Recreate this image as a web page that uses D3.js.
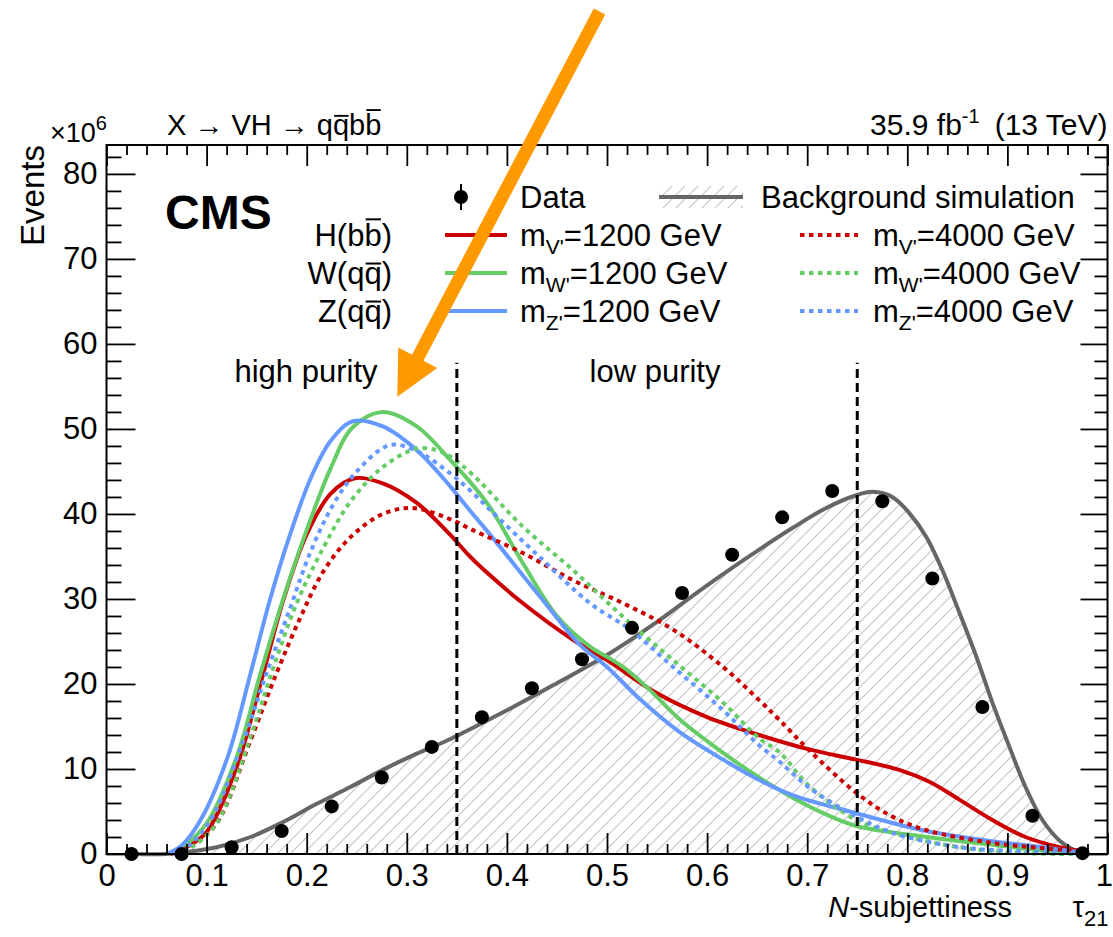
<!DOCTYPE html>
<html>
<head>
<meta charset="utf-8">
<script src="https://cdn.jsdelivr.net/npm/d3@7"></script>
<style>
  body { margin: 0; background: #fff; }
  text { font-family: "Liberation Sans", Arial, Helvetica, sans-serif; fill: #000; }
</style>
</head>
<body>
<svg id="chart" width="1113" height="937"></svg>
<script>
// ---- data (events in units of 10^6) ----
const binCenters = [0.025, 0.075, 0.125, 0.175, 0.225, 0.275, 0.325, 0.375, 0.425, 0.475,
                    0.525, 0.575, 0.625, 0.675, 0.725, 0.775, 0.825, 0.875, 0.925, 0.975];
const dataEvents = [0, 0, 0.8, 2.7, 5.6, 9.0, 12.6, 16.1, 19.5, 22.9,
                    26.6, 30.7, 35.2, 39.6, 42.7, 41.5, 32.4, 17.3, 4.5, 0.1];

const bkgCurve = [[0.025,0],[0.060,0],[0.077,0.2],[0.110,0.8],[0.144,2.0],[0.177,3.8],[0.210,5.9],
  [0.244,7.9],[0.276,9.9],[0.310,11.8],[0.343,13.5],[0.400,16.9],[0.450,20.1],[0.500,23.4],
  [0.550,27.3],[0.600,31.6],[0.652,35.8],[0.686,38.4],[0.719,40.7],[0.749,42.2],[0.765,42.6],
  [0.785,42.0],[0.802,40.1],[0.819,37.3],[0.835,33.4],[0.852,28.4],[0.869,23.2],[0.885,17.8],
  [0.902,12.6],[0.918,7.9],[0.935,4.0],[0.952,1.6],[0.968,0.4],[0.978,0]];

const hbb1200 = [[0.064,0],[0.080,0.8],[0.100,2.6],[0.130,10.2],[0.154,20.1],[0.177,30.0],[0.200,37.6],
  [0.224,42.4],[0.248,44.2],[0.276,43.6],[0.310,41.3],[0.343,37.6],[0.363,35.0],[0.380,33.1],
  [0.416,29.5],[0.466,25.2],[0.500,22.8],[0.550,18.9],[0.600,16.1],[0.652,14.0],[0.702,12.3],
  [0.749,11.1],[0.792,9.9],[0.822,8.5],[0.852,6.4],[0.885,4.0],[0.918,2.0],[0.952,0.8],[0.975,0.3]];
const wqq1200 = [[0.062,0],[0.078,1.0],[0.100,3.6],[0.130,11.4],[0.154,21.3],[0.177,30.2],[0.200,38.1],
  [0.224,45.4],[0.246,50.2],[0.276,52.0],[0.310,50.3],[0.343,46.4],[0.363,43.8],[0.383,40.8],
  [0.416,34.2],[0.450,28.0],[0.483,24.4],[0.500,23.2],[0.516,22.0],[0.540,19.6],[0.573,15.8],
  [0.616,11.9],[0.652,9.0],[0.686,6.6],[0.720,4.6],[0.749,3.3],[0.819,2.0],[0.885,1.1],
  [0.935,0.4],[0.975,0.05]];
const zqq1200 = [[0.060,0],[0.075,1.0],[0.094,4.0],[0.121,11.4],[0.144,21.3],[0.164,30.2],[0.184,37.8],
  [0.204,44.2],[0.224,48.6],[0.246,50.9],[0.276,50.3],[0.310,47.5],[0.343,43.3],[0.363,40.4],
  [0.383,37.6],[0.433,30.3],[0.473,24.6],[0.500,22.0],[0.533,18.2],[0.573,14.3],[0.616,11.1],
  [0.652,8.7],[0.686,6.9],[0.749,4.8],[0.819,2.7],[0.885,1.5],[0.935,0.8],[0.972,0.2]];

const hbb4000 = [[0.068,0],[0.085,1.0],[0.110,3.6],[0.144,13.4],[0.170,21.3],[0.194,27.9],[0.217,33.3],
  [0.244,37.3],[0.276,40.0],[0.306,40.7],[0.343,39.4],[0.366,38.1],[0.416,35.4],[0.466,32.2],
  [0.516,29.5],[0.566,26.4],[0.616,22.0],[0.652,18.1],[0.672,15.8],[0.702,12.2],[0.749,7.2],
  [0.785,4.4],[0.819,2.8],[0.885,1.3],[0.952,0.5],[0.975,0.2]];
const wqq4000 = [[0.068,0],[0.085,0.8],[0.110,3.6],[0.144,13.8],[0.167,22.0],[0.190,29.5],[0.217,36.1],
  [0.244,41.5],[0.276,45.5],[0.310,47.7],[0.330,47.5],[0.343,46.8],[0.366,44.6],[0.416,38.5],
  [0.466,33.4],[0.516,27.9],[0.566,22.8],[0.616,17.8],[0.652,13.6],[0.672,12.0],[0.702,8.0],
  [0.749,4.0],[0.785,2.5],[0.852,0.8],[0.918,0.1],[0.975,0]];
const zqq4000 = [[0.065,0],[0.082,1.0],[0.104,4.0],[0.137,13.4],[0.160,21.3],[0.184,29.1],[0.204,35.6],
  [0.227,41.2],[0.250,45.0],[0.283,48.1],[0.310,47.4],[0.343,44.8],[0.363,42.8],[0.383,40.5],
  [0.433,34.9],[0.483,29.5],[0.523,26.4],[0.566,22.0],[0.616,16.9],[0.652,12.8],[0.672,10.9],
  [0.702,7.8],[0.749,4.4],[0.785,2.5],[0.852,0.8],[0.918,0.3],[0.975,0.05]];

const purityCuts = [0.35, 0.75];
const cutTop = 57.8;
const xMajorTicks = [0, 0.1, 0.2, 0.3, 0.4, 0.5, 0.6, 0.7, 0.8, 0.9, 1];
const yMajorTicks = [0, 10, 20, 30, 40, 50, 60, 70, 80];

const colRed = "#cc0000", colGreen = "#66cc66", colBlue = "#6699ff", colBkg = "#666666";

const signals = [
  { pts: hbb1200, color: colRed,   dashed: false },
  { pts: wqq1200, color: colGreen, dashed: false },
  { pts: zqq1200, color: colBlue,  dashed: false },
  { pts: hbb4000, color: colRed,   dashed: true },
  { pts: wqq4000, color: colGreen, dashed: true },
  { pts: zqq4000, color: colBlue,  dashed: true }
];

const FS = 31; // main text size

// ---- layout ----
const svg = d3.select("#chart");
const x = d3.scaleLinear().domain([0, 1]).range([106.5, 1107.5]);
const y = d3.scaleLinear().domain([0, 83.4]).range([854, 145]);

// hatch pattern for the background simulation
const defs = svg.append("defs");
const hatch = defs.append("pattern").attr("id", "hatch")
  .attr("patternUnits", "userSpaceOnUse").attr("width", 13).attr("height", 13);
hatch.append("path").attr("d", "M-1,14 L14,-1 M-4,4 L4,-4 M9,17 L17,9")
  .attr("stroke", "#c4c4c4").attr("stroke-width", 1.1).attr("fill", "none");

const smooth = d3.curveCatmullRom.alpha(0.5);
const line = d3.line().x(d => x(d[0])).y(d => y(Math.max(0, d[1]))).curve(smooth);
const area = d3.area().x(d => x(d[0])).y0(y(0)).y1(d => y(d[1])).curve(smooth);

// background simulation: hatched area + solid line
svg.append("path").datum(bkgCurve).attr("d", area).attr("fill", "url(#hatch)");
svg.append("path").datum(bkgCurve).attr("d", line)
  .attr("fill", "none").attr("stroke", colBkg).attr("stroke-width", 4);

// signal shapes
svg.append("g").selectAll("path").data(signals).join("path")
  .attr("d", d => line(d.pts))
  .attr("fill", "none")
  .attr("stroke", d => d.color)
  .attr("stroke-width", 4)
  .attr("stroke-dasharray", d => d.dashed ? "4.5,4.5" : null);

// purity category boundaries
svg.append("g").selectAll("line").data(purityCuts).join("line")
  .attr("x1", d => x(d)).attr("x2", d => x(d))
  .attr("y1", y(0)).attr("y2", y(cutTop))
  .attr("stroke", "#000").attr("stroke-width", 3).attr("stroke-dasharray", "9,5");

// data points
svg.append("g").selectAll("circle").data(binCenters).join("circle")
  .attr("cx", d => x(d)).attr("cy", (d, i) => y(dataEvents[i])).attr("r", 7).attr("fill", "#000");

// ---- axes (ticks inside on all four sides) ----
const xMinorTicks = d3.range(0, 1.0001, 0.02).filter(v => Math.abs(v * 10 - Math.round(v * 10)) > 1e-6);
const yMinorTicks = d3.range(0, 83.4, 2).filter(v => v % 10 !== 0);
const fmtX = d => d === 0 ? "0" : d === 1 ? "1" : d.toFixed(1);

function styleAxis(g) {
  g.select(".domain").remove();
  g.selectAll("line").attr("stroke", "#000").attr("stroke-width", 1.8);
  g.selectAll("text").style("font-size", "31px").attr("font-family", null);
}

const xAxisG = svg.append("g").attr("transform", `translate(0,${y(0)})`)
  .call(d3.axisBottom(x).tickValues(xMajorTicks).tickSize(-21).tickSizeOuter(0).tickPadding(10).tickFormat(fmtX))
  .call(styleAxis);
// keep the last label inside the canvas
xAxisG.selectAll(".tick").filter(d => d === 1).select("text").attr("text-anchor", "end").attr("x", 5);
svg.append("g").attr("transform", `translate(0,${y(0)})`)
  .call(d3.axisBottom(x).tickValues(xMinorTicks).tickSize(-10).tickSizeOuter(0).tickFormat(""))
  .call(styleAxis);
svg.append("g").attr("transform", `translate(0,${y(83.4)})`)
  .call(d3.axisTop(x).tickValues(xMajorTicks).tickSize(-21).tickSizeOuter(0).tickFormat(""))
  .call(styleAxis);
svg.append("g").attr("transform", `translate(0,${y(83.4)})`)
  .call(d3.axisTop(x).tickValues(xMinorTicks).tickSize(-10).tickSizeOuter(0).tickFormat(""))
  .call(styleAxis);
svg.append("g").attr("transform", `translate(${x(0)},0)`)
  .call(d3.axisLeft(y).tickValues(yMajorTicks).tickSize(-29).tickSizeOuter(0).tickPadding(9).tickFormat(d3.format("d")))
  .call(styleAxis);
svg.append("g").attr("transform", `translate(${x(0)},0)`)
  .call(d3.axisLeft(y).tickValues(yMinorTicks).tickSize(-15).tickSizeOuter(0).tickFormat(""))
  .call(styleAxis);
svg.append("g").attr("transform", `translate(${x(1)},0)`)
  .call(d3.axisRight(y).tickValues(yMajorTicks).tickSize(-27).tickSizeOuter(0).tickFormat(""))
  .call(styleAxis);
svg.append("g").attr("transform", `translate(${x(1)},0)`)
  .call(d3.axisRight(y).tickValues(yMinorTicks).tickSize(-13).tickSizeOuter(0).tickFormat(""))
  .call(styleAxis);

// frame
svg.append("rect")
  .attr("x", x(0)).attr("y", y(83.4)).attr("width", x(1) - x(0)).attr("height", y(0) - y(83.4))
  .attr("fill", "none").attr("stroke", "#000").attr("stroke-width", 2);

// draws an anti-particle bar over character `idx` of a text element
function overbar(textSel, idx, fontSize, tall) {
  const node = textSel.node();
  const baseY = +textSel.attr("y");
  const x0 = node.getStartPositionOfChar(idx).x;
  const x1 = node.getEndPositionOfChar(idx).x;
  const yy = baseY - fontSize * (tall ? 0.86 : 0.66);
  svg.append("line").attr("x1", x0 + fontSize * 0.04).attr("x2", x1 - fontSize * 0.02)
    .attr("y1", yy).attr("y2", yy).attr("stroke", "#000").attr("stroke-width", fontSize * 0.065);
}

// ---- axis titles ----
svg.append("text").attr("transform", `translate(44,${y(83.4)}) rotate(-90)`)
  .attr("text-anchor", "end").style("font-size", "33px").text("Events");
const mult = svg.append("text").attr("x", 50).attr("y", 142).style("font-size", "27px");
mult.append("tspan").text("\u00d710");
mult.append("tspan").attr("dy", -12).style("font-size", "20px").text("6");

const xtitle = svg.append("text").attr("x", 1012).attr("y", 917).attr("text-anchor", "end").style("font-size", "29px");
xtitle.append("tspan").style("font-style", "italic").text("N");
xtitle.append("tspan").text("-subjettiness");
const tau = svg.append("text").attr("x", x(1) + 1).attr("y", 917).attr("text-anchor", "end").style("font-size", "29px");
tau.append("tspan").text("\u03c4");
tau.append("tspan").attr("dy", 9).style("font-size", "22px").text("21");

// ---- header ----
const hdrText = "X \u2192 VH \u2192 qqbb";
const hdr = svg.append("text").attr("x", 167).attr("y", 135).style("font-size", "29px").text(hdrText);
overbar(hdr, hdrText.length - 3, 29, false);
overbar(hdr, hdrText.length - 1, 29, true);

const lumi = svg.append("text").attr("x", x(1)).attr("y", 135).attr("text-anchor", "end").style("font-size", "30px");
lumi.append("tspan").text("35.9 fb");
lumi.append("tspan").attr("dy", -12).style("font-size", "20px").text("-1");
lumi.append("tspan").attr("dy", 12).attr("dx", 15).text("(13 TeV)");

svg.append("text").attr("x", 165).attr("y", 229).style("font-size", "48px").style("font-weight", "bold").text("CMS");

svg.append("text").attr("x", 306).attr("y", 382).attr("text-anchor", "middle").style("font-size", FS + "px").text("high purity");
svg.append("text").attr("x", 655).attr("y", 382).attr("text-anchor", "middle").style("font-size", FS + "px").text("low purity");

// ---- legend ----
const leg = svg.append("g");
const rowY = [197, 235, 273, 311];
// Data
leg.append("line").attr("x1", 461).attr("x2", 461).attr("y1", rowY[0] - 13).attr("y2", rowY[0] + 13)
  .attr("stroke", "#000").attr("stroke-width", 2);
leg.append("circle").attr("cx", 461).attr("cy", rowY[0]).attr("r", 7).attr("fill", "#000");
leg.append("text").attr("x", 520).attr("y", rowY[0] + 11).style("font-size", FS + "px").text("Data");
// Background simulation
leg.append("rect").attr("x", 659).attr("y", rowY[0] - 11).attr("width", 84).attr("height", 22).attr("fill", "url(#hatch)");
leg.append("line").attr("x1", 659).attr("x2", 743).attr("y1", rowY[0]).attr("y2", rowY[0])
  .attr("stroke", colBkg).attr("stroke-width", 4);
leg.append("text").attr("x", 761).attr("y", rowY[0] + 11).style("font-size", FS + "px").text("Background simulation");

const rowLabels = [
  { name: "H(bb)", tall: true,  sub: "V'", color: colRed },
  { name: "W(qq)", tall: false, sub: "W'", color: colGreen },
  { name: "Z(qq)", tall: false, sub: "Z'", color: colBlue }
];
rowLabels.forEach((r, i) => {
  const yy = rowY[i + 1];
  const t = leg.append("text").attr("x", 392).attr("y", yy + 11).attr("text-anchor", "end")
    .style("font-size", FS + "px").text(r.name);
  overbar(t, 3, FS, r.tall);

  [[445, 507, 520, "1200", false], [800, 858, 873, "4000", true]].forEach(([x1, x2, tx, mass, dashed]) => {
    leg.append("line").attr("x1", x1).attr("x2", x2).attr("y1", yy).attr("y2", yy)
      .attr("stroke", r.color).attr("stroke-width", 4).attr("stroke-dasharray", dashed ? "4.5,4.5" : null);
    const lt = leg.append("text").attr("x", tx).attr("y", yy + 11).style("font-size", FS + "px");
    lt.append("tspan").text("m");
    lt.append("tspan").attr("dy", 8).style("font-size", "21px").text(r.sub);
    lt.append("tspan").attr("dy", -8).text("=" + mass + " GeV");
  });
});

// ---- highlight arrow pointing at the high-purity peak ----
const tail = [x(0.4925), y(99.1)];
const tip = [x(0.2905), y(53.8)];
const dx = tip[0] - tail[0], dy = tip[1] - tail[1];
const len = Math.hypot(dx, dy), ux = dx / len, uy = dy / len;
const headLen = 44, headHalf = 22;
const base = [tip[0] - ux * headLen, tip[1] - uy * headLen];
svg.append("line").attr("x1", tail[0]).attr("y1", tail[1]).attr("x2", base[0] + ux * 2).attr("y2", base[1] + uy * 2)
  .attr("stroke", "#ff9900").attr("stroke-width", 13);
svg.append("path")
  .attr("d", `M${tip[0]},${tip[1]} L${base[0] - uy * headHalf},${base[1] + ux * headHalf} L${base[0] + uy * headHalf},${base[1] - ux * headHalf} Z`)
  .attr("fill", "#ff9900");
</script>
</body>
</html>
